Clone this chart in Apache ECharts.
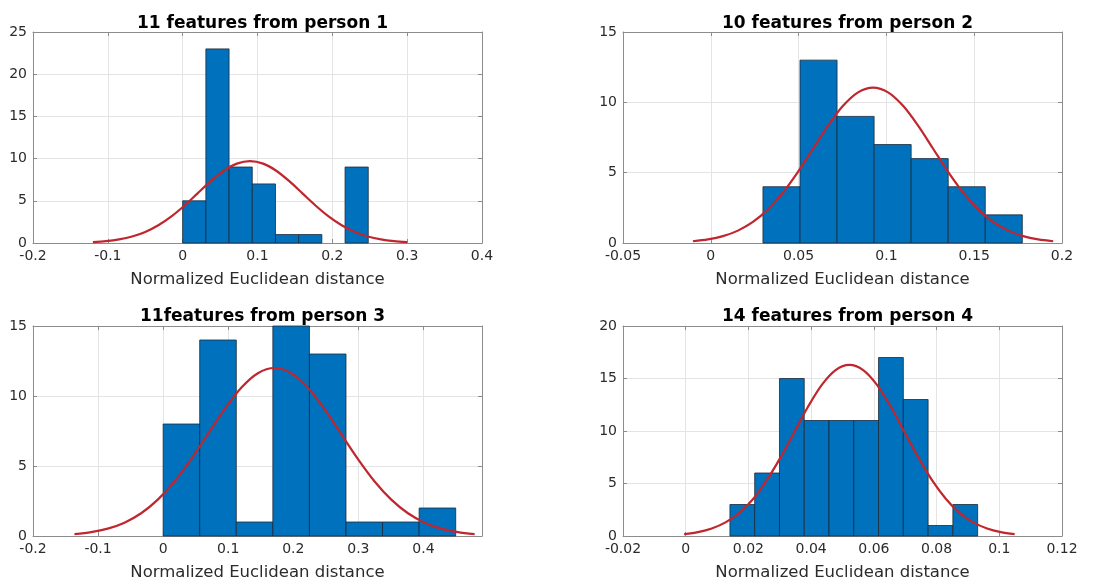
<!DOCTYPE html>
<html>
<head>
<meta charset="utf-8">
<script src="https://cdn.jsdelivr.net/npm/echarts@6/dist/echarts.min.js"></script>
<style>
html,body{margin:0;padding:0;background:#fff;}
#chart{width:1094px;height:585px;}
</style>
</head>
<body>
<div id="chart"></div>
<script>
// ---- Data ----
const titles = ['11 features from person 1', '10 features from person 2', '11features from person 3', '14 features from person 4'];
const xLabelName = 'Normalized Euclidean distance';

// axis ranges (tick spacing)
const xMin = [-0.2, -0.05, -0.2, -0.02];
const xMax = [0.4, 0.2, 0.49, 0.12];
const xInterval = [0.1, 0.05, 0.1, 0.02];
const xShowMaxLabel = [true, true, false, true];
const yMax = [25, 15, 15, 20];
const yInterval = [5, 5, 5, 5];

// histogram bin edges and counts
const p1Edges = [0, 0.031, 0.062, 0.093, 0.124, 0.155, 0.186, 0.217, 0.248];
const p1Counts = [5, 23, 9, 7, 1, 1, 0, 9];
const p2Edges = [0.0297, 0.0508, 0.0719, 0.0930, 0.1141, 0.1352, 0.1563, 0.1774];
const p2Counts = [4, 13, 9, 7, 6, 4, 2];
const p3Edges = [0, 0.0562, 0.1124, 0.1686, 0.2248, 0.2810, 0.3372, 0.3934, 0.4496];
const p3Counts = [8, 14, 1, 15, 13, 1, 1, 2];
const p4Edges = [0.0141, 0.0220, 0.0299, 0.0378, 0.0457, 0.0536, 0.0615, 0.0694, 0.0773, 0.0852, 0.0931];
const p4Counts = [3, 6, 15, 11, 11, 11, 17, 13, 1, 3];

// fitted curve points
const p1CurveX = [-0.12, -0.1025, -0.085, -0.0675, -0.05, -0.0325, -0.015, 0.0025, 0.02, 0.0375, 0.055, 0.0725, 0.09, 0.1075, 0.125, 0.1425, 0.16, 0.1775, 0.195, 0.2125, 0.23, 0.2475, 0.265, 0.2825, 0.30];
const p1CurveY = [0.108, 0.221, 0.426, 0.772, 1.312, 2.098, 3.150, 4.441, 5.883, 7.322, 8.560, 9.401, 9.7, 9.401, 8.560, 7.322, 5.883, 4.441, 3.150, 2.098, 1.312, 0.772, 0.426, 0.221, 0.108];
const p2CurveX = [-0.0102, -0.00165, 0.0069, 0.01545, 0.0240, 0.03255, 0.0411, 0.04965, 0.0582, 0.06675, 0.0753, 0.08385, 0.0924, 0.10095, 0.1095, 0.11805, 0.1266, 0.13515, 0.1437, 0.15225, 0.1608, 0.16935, 0.1779, 0.18645, 0.1950];
const p2CurveY = [0.123, 0.252, 0.485, 0.880, 1.495, 2.390, 3.588, 5.059, 6.702, 8.341, 9.752, 10.710, 11.05, 10.710, 9.752, 8.341, 6.702, 5.059, 3.588, 2.390, 1.495, 0.880, 0.485, 0.252, 0.123];
const p3CurveX = [-0.1363, -0.1107, -0.0851, -0.0594, -0.0338, -0.0082, 0.0175, 0.0431, 0.0687, 0.0944, 0.1200, 0.1456, 0.1712, 0.1968, 0.2225, 0.2481, 0.2737, 0.2994, 0.3250, 0.3506, 0.3762, 0.4019, 0.4275, 0.4531, 0.4787];
const p3CurveY = [0.133, 0.274, 0.527, 0.955, 1.624, 2.596, 3.896, 5.494, 7.278, 9.058, 10.59, 11.63, 12.0, 11.63, 10.59, 9.058, 7.278, 5.494, 3.896, 2.596, 1.624, 0.955, 0.527, 0.274, 0.133];
const p4CurveX = [-0.0005, 0.0039, 0.0083, 0.0127, 0.0171, 0.0215, 0.0258, 0.0302, 0.0346, 0.0390, 0.0434, 0.0478, 0.0522, 0.0566, 0.0610, 0.0654, 0.0698, 0.0742, 0.0786, 0.0830, 0.0873, 0.0917, 0.0961, 0.1005, 0.1049];
const p4CurveY = [0.181, 0.372, 0.716, 1.297, 2.205, 3.526, 5.293, 7.462, 9.886, 12.303, 14.385, 15.798, 16.3, 15.798, 14.385, 12.303, 9.886, 7.462, 5.293, 3.526, 2.205, 1.297, 0.716, 0.372, 0.181];

const edges = [p1Edges, p2Edges, p3Edges, p4Edges];
const counts = [p1Counts, p2Counts, p3Counts, p4Counts];
const curveX = [p1CurveX, p2CurveX, p3CurveX, p4CurveX];
const curveY = [p1CurveY, p2CurveY, p3CurveY, p4CurveY];

// ---- Layout ----
const grids = [
  {left: 33, top: 32, width: 449, height: 211},
  {left: 623, top: 32, width: 439, height: 211},
  {left: 33, top: 326, width: 449, height: 210},
  {left: 623, top: 326, width: 439, height: 210}
];
const titleTops = [10, 10, 303, 303];

const textColor = '#2b2b2b';
const axisColor = '#8c8c8c';
const gridColor = '#e4e4e4';
const barColor = '#0072BD';
const curveColor = '#c0262d';

const option = {
  animation: false,
  backgroundColor: '#fff',
  title: [], grid: [], xAxis: [], yAxis: [], series: []
};

for (let i = 0; i < 4; i++) {
  const g = grids[i];
  option.grid.push({left: g.left, top: g.top, width: g.width, height: g.height, containLabel: false});
  option.title.push({
    text: titles[i], left: g.left + g.width / 2, top: titleTops[i], textAlign: 'center',
    textStyle: {fontFamily: 'DejaVu Sans', fontWeight: 'bold', fontSize: 17, color: '#000'}
  });
  // main bottom x axis
  option.xAxis.push({
    type: 'value', gridIndex: i, min: xMin[i], max: xMax[i], interval: xInterval[i],
    name: xLabelName, nameLocation: 'middle', nameGap: 28,
    nameTextStyle: {fontFamily: 'DejaVu Sans', fontSize: 16.5, color: textColor, verticalAlign: 'top'},
    axisLine: {show: true, onZero: false, lineStyle: {color: axisColor, width: 1}},
    axisTick: {show: true, inside: true, length: 4, lineStyle: {color: axisColor}},
    axisLabel: {fontFamily: 'DejaVu Sans', fontSize: 14, color: textColor, margin: 6, showMaxLabel: xShowMaxLabel[i], showMinLabel: true},
    splitLine: {show: true, lineStyle: {color: gridColor, width: 1}}
  });
  // top mirror axis (ticks only)
  option.xAxis.push({
    type: 'value', gridIndex: i, position: 'top', min: xMin[i], max: xMax[i], interval: xInterval[i],
    axisLine: {show: true, onZero: false, lineStyle: {color: axisColor, width: 1}},
    axisTick: {show: true, inside: true, length: 4, lineStyle: {color: axisColor}},
    axisLabel: {show: false}, splitLine: {show: false}
  });
  option.yAxis.push({
    type: 'value', gridIndex: i, min: 0, max: yMax[i], interval: yInterval[i],
    axisLine: {show: true, onZero: false, lineStyle: {color: axisColor, width: 1}},
    axisTick: {show: true, inside: true, length: 4, lineStyle: {color: axisColor}},
    axisLabel: {fontFamily: 'DejaVu Sans', fontSize: 14, color: textColor, margin: 6},
    splitLine: {show: true, lineStyle: {color: gridColor, width: 1}}
  });
  option.yAxis.push({
    type: 'value', gridIndex: i, position: 'right', min: 0, max: yMax[i], interval: yInterval[i],
    axisLine: {show: true, onZero: false, lineStyle: {color: axisColor, width: 1}},
    axisTick: {show: true, inside: true, length: 4, lineStyle: {color: axisColor}},
    axisLabel: {show: false}, splitLine: {show: false}
  });

  const binData = counts[i].map((c, k) => [edges[i][k], edges[i][k + 1], c]);
  option.series.push({
    type: 'custom', xAxisIndex: 2 * i, yAxisIndex: 2 * i,
    data: binData, encode: {x: [0, 1], y: 2},
    renderItem: function (params, api) {
      const c = api.value(2);
      if (!c) return null;
      const p0 = api.coord([api.value(0), c]);
      const p1 = api.coord([api.value(1), 0]);
      return {
        type: 'rect',
        shape: {x: p0[0], y: p0[1], width: p1[0] - p0[0], height: p1[1] - p0[1]},
        style: {fill: barColor, stroke: '#1b2a3a', lineWidth: 0.8}
      };
    }
  });
  option.series.push({
    type: 'line', xAxisIndex: 2 * i, yAxisIndex: 2 * i,
    data: curveX[i].map((x, k) => [x, curveY[i][k]]),
    smooth: 0.3, showSymbol: false, symbol: 'none',
    lineStyle: {color: curveColor, width: 2.2}, z: 5
  });
}

const chart = echarts.init(document.getElementById('chart'), null, {renderer: 'canvas'});
chart.setOption(option);
</script>
</body>
</html>
